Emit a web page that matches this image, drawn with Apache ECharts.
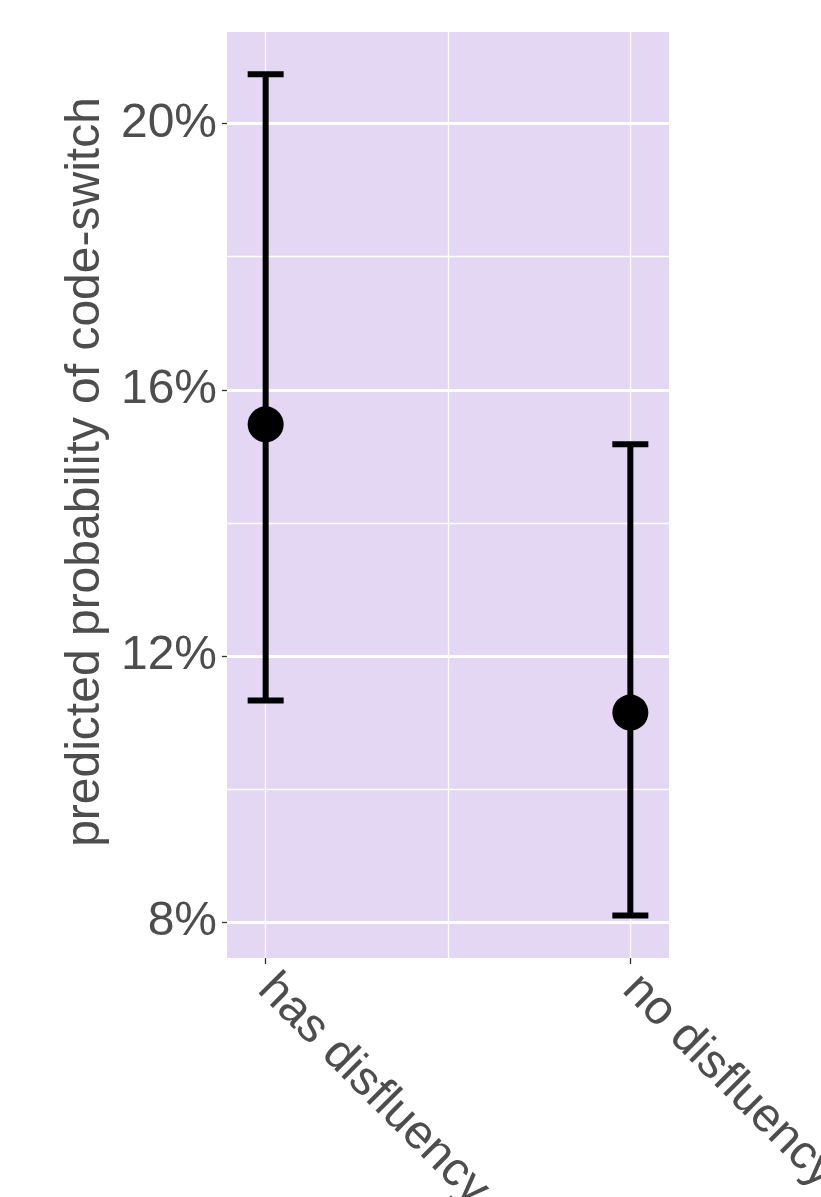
<!DOCTYPE html>
<html><head><meta charset="utf-8">
<script src="https://cdn.jsdelivr.net/npm/echarts@6/dist/echarts.min.js"></script>
<style>html,body{margin:0;padding:0;background:#fff}#c{width:821px;height:1197px}</style>
</head><body><div id="c"></div>
<script>
const categories = ['has disfluency', 'no disfluency'];
const estimate = [15.48, 11.15];
const lower = [11.33, 8.10];
const upper = [20.74, 15.18];
const yMajorTicks = [8, 12, 16, 20];
const yMinorTicks = [10, 14, 18];
const xMajorTicks = [0, 1];
const xMinorTicks = [0.5];

const FONT = "'Liberation Sans', Arial, Helvetica, sans-serif";
const TEXT = '#4D4D4D';
const X_MIN = -0.106, X_MAX = 1.106;
const Y_MIN = 7.4625, Y_MAX = 21.375;

const errData = categories.map((c, i) => [i, lower[i], upper[i]]);
const pointData = categories.map((c, i) => [i, estimate[i]]);

const chart = echarts.init(document.getElementById('c'), null, {renderer: 'canvas'});
chart.setOption({
  animation: false,
  backgroundColor: '#ffffff',
  grid: {left: 227, right: 152, top: 32, bottom: 239, show: true, backgroundColor: '#E4D7F3',
         borderWidth: 0, containLabel: false, outerBoundsMode: 'none'},
  xAxis: [
    {type: 'value', min: X_MIN, max: X_MAX, position: 'bottom',
     axisLine: {show: false, onZero: false},
     axisTick: {show: true, customValues: xMajorTicks, length: 6, lineStyle: {color: '#333333', width: 1.3}},
     axisLabel: {customValues: xMajorTicks, formatter: v => categories[Math.round(v)] || '',
                 rotate: -45, margin: 24, fontSize: 48, color: TEXT, fontFamily: FONT},
     splitLine: {show: true, lineStyle: {color: '#ffffff', width: 1.3}}},
    {type: 'value', min: X_MIN, max: X_MAX, position: 'top',
     axisLine: {show: false, onZero: false},
     axisTick: {show: false, customValues: xMinorTicks},
     axisLabel: {show: false},
     splitLine: {show: true, lineStyle: {color: '#ffffff', width: 1.3}}}
  ],
  yAxis: [
    {type: 'value', min: Y_MIN, max: Y_MAX, position: 'left',
     name: 'predicted probability of code-switch', nameLocation: 'middle', nameGap: 117,
     nameTextStyle: {fontSize: 48, color: TEXT, fontFamily: FONT, padding: [0, 0, 0, 46]},
     axisLine: {show: false, onZero: false},
     axisTick: {show: true, customValues: yMajorTicks, length: 5, lineStyle: {color: '#333333', width: 1.3}},
     axisLabel: {customValues: yMajorTicks, formatter: v => v + '%', margin: 10,
                 fontSize: 48, color: TEXT, fontFamily: FONT},
     splitLine: {show: true, lineStyle: {color: '#ffffff', width: 2.8}}},
    {type: 'value', min: Y_MIN, max: Y_MAX, position: 'right',
     axisLine: {show: false, onZero: false},
     axisTick: {show: false, customValues: yMinorTicks},
     axisLabel: {show: false},
     splitLine: {show: true, lineStyle: {color: '#ffffff', width: 1.3}}}
  ],
  series: [
    {type: 'custom', xAxisIndex: 0, yAxisIndex: 0, data: errData, encode: {x: 0, y: [1, 2]},
     silent: true, z: 3,
     renderItem: (params, api) => {
       const lo = api.coord([api.value(0), api.value(1)]);
       const hi = api.coord([api.value(0), api.value(2)]);
       const w = 18;
       const st = {stroke: '#000000', lineWidth: 6};
       return {type: 'group', children: [
         {type: 'line', shape: {x1: lo[0], y1: lo[1], x2: hi[0], y2: hi[1]}, style: st},
         {type: 'line', shape: {x1: hi[0] - w, y1: hi[1], x2: hi[0] + w, y2: hi[1]}, style: st},
         {type: 'line', shape: {x1: lo[0] - w, y1: lo[1], x2: lo[0] + w, y2: lo[1]}, style: st}
       ]};
     }},
    {type: 'scatter', xAxisIndex: 0, yAxisIndex: 0, data: pointData, symbol: 'circle', symbolSize: 36,
     itemStyle: {color: '#000000', opacity: 1}, silent: true, z: 4}
  ]
});
</script>
</body></html>
